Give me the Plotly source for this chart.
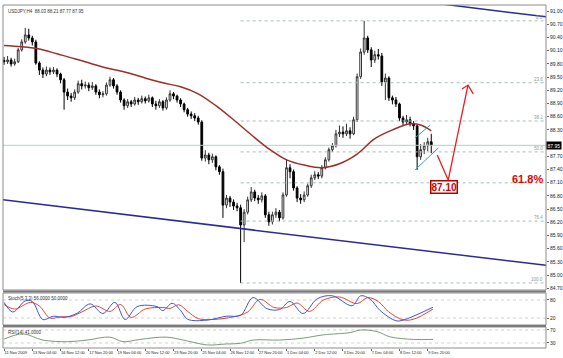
import plotly.graph_objects as go

# ---------------- data ----------------
bars = list(range(122))
open_ = [89.88,89.85,89.89,89.80,89.85,90.12,90.30,90.46,90.39,90.30,
         89.82,89.66,89.57,89.66,89.62,89.66,89.57,89.44,89.16,89.07,
         89.03,89.16,89.35,89.30,89.32,89.26,89.30,89.16,89.10,89.12,
         89.32,89.44,89.30,89.16,88.98,88.85,88.94,88.89,88.98,88.94,
         89.01,88.96,89.03,88.89,88.85,88.94,88.80,88.98,89.12,89.07,
         88.98,88.89,88.76,88.66,88.62,88.57,88.48,87.66,87.73,87.62,
         87.69,87.46,87.35,86.59,86.75,86.66,86.57,86.53,86.14,86.43,
         86.71,86.89,86.75,86.71,86.80,86.37,86.21,86.37,86.43,86.30,
         86.82,87.44,87.35,86.98,86.75,86.71,86.82,87.03,87.21,87.28,
         87.25,87.44,87.62,87.85,87.94,88.21,88.25,88.21,88.28,88.21,
         88.53,89.51,90.07,90.39,90.12,89.89,90.01,89.98,89.39,89.48,
         89.03,88.98,88.89,88.57,88.48,88.53,88.44,88.39,87.69,87.85,
         87.94,88.03]
high = [89.96,89.98,89.94,89.92,90.16,90.36,90.62,90.60,90.44,90.35,
        89.86,89.72,89.74,89.72,89.73,89.70,89.60,89.48,89.24,89.14,
        89.22,89.42,89.44,89.40,89.38,89.39,89.34,89.22,89.18,89.38,
        89.51,89.48,89.34,89.20,89.02,89.00,88.98,89.05,89.03,89.08,
        89.06,89.10,89.06,88.96,89.00,88.98,89.04,89.20,89.16,89.10,
        89.02,88.92,88.80,88.72,88.68,88.62,88.52,87.84,87.78,87.76,
        87.72,87.50,87.42,86.82,86.80,86.72,86.64,86.60,86.50,86.78,
        87.00,86.94,86.82,86.88,86.84,86.44,86.44,86.52,86.48,86.88,
        87.64,87.52,87.40,87.02,86.84,86.90,87.08,87.28,87.36,87.34,
        87.50,87.68,87.90,88.00,88.30,88.40,88.38,88.44,88.36,88.60,
        89.58,90.15,90.78,90.44,90.18,90.10,90.14,90.05,89.58,89.52,
        89.08,89.05,88.92,88.62,88.64,88.60,88.50,88.42,87.98,88.02,
        88.12,88.21]
low = [89.78,89.80,89.74,89.76,89.82,90.08,90.26,90.33,90.22,89.78,
       89.55,89.48,89.52,89.55,89.57,89.50,89.36,88.76,88.98,88.94,
       88.98,89.12,89.22,89.24,89.18,89.21,89.10,89.02,89.04,89.08,
       89.28,89.24,89.10,88.92,88.76,88.80,88.82,88.85,88.87,88.90,
       88.90,88.92,88.82,88.76,88.80,88.74,88.76,88.94,89.00,88.92,
       88.82,88.70,88.60,88.55,88.50,88.42,87.60,87.58,87.52,87.55,
       87.38,87.28,86.30,86.52,86.55,86.48,86.45,84.82,85.75,86.38,
       86.66,86.68,86.62,86.65,86.30,86.12,86.15,86.30,86.22,86.26,
       86.78,87.20,86.92,86.66,86.62,86.66,86.78,86.98,87.16,87.18,
       87.20,87.40,87.58,87.80,87.90,88.14,88.12,88.16,88.10,88.18,
       88.48,89.46,90.01,90.05,89.73,89.82,89.90,89.30,88.98,88.96,
       88.88,88.82,88.50,88.40,88.42,88.38,88.30,87.39,87.62,87.75,
       87.82,87.77]
close = [89.85,89.89,89.80,89.85,90.12,90.30,90.46,90.39,90.30,89.82,
         89.66,89.57,89.66,89.62,89.66,89.57,89.44,89.16,89.07,89.03,
         89.16,89.35,89.30,89.32,89.26,89.30,89.16,89.10,89.12,89.32,
         89.44,89.30,89.16,88.98,88.85,88.94,88.89,88.98,88.94,89.01,
         88.96,89.03,88.89,88.85,88.94,88.80,88.98,89.12,89.07,88.98,
         88.89,88.76,88.66,88.62,88.57,88.48,87.66,87.73,87.62,87.69,
         87.46,87.35,86.59,86.75,86.66,86.57,86.53,86.14,86.43,86.71,
         86.89,86.75,86.71,86.80,86.37,86.21,86.37,86.43,86.30,86.82,
         87.44,87.35,86.98,86.75,86.71,86.82,87.03,87.21,87.28,87.25,
         87.44,87.62,87.85,87.94,88.21,88.25,88.21,88.28,88.21,88.53,
         89.51,90.07,90.39,90.12,89.89,90.01,89.98,89.39,89.48,89.03,
         88.98,88.89,88.57,88.48,88.53,88.44,88.39,87.69,87.85,87.94,
         88.03,87.95]

ma_bar = [0,5,10,15,20,25,30,35,40,45,50,55,60,65,70,75,80,85,90,95,100,105,110,115,118,121]
ma_val = [90.22,90.19,90.14,90.03,89.92,89.80,89.69,89.60,89.48,89.37,89.28,89.12,88.85,
          88.53,88.19,87.87,87.62,87.50,87.44,87.53,87.75,88.10,88.30,88.44,88.41,88.28]

st_bar = [0,2.5,6,8,11,14,17,20.7,24.4,28,31.4,34.3,37.7,43.3,45,47.6,50,52,57.5,63,67,
          70.5,74.5,78,81,84.7,88.7,93,98.6,101,103.7,106.5,111,113,121.5]
st_main = [72,40,77,75,15,26,22,36,67,35,72,15,58,58,45,69,45,16,13,26,29,
           88,51,48,75,35,84,94,61,94,83,45,11,13,56]
sg_bar = [0,3,7.5,10,13,16,19,22,26,30,33,36,40,45,47,49.5,52,55,59,65,69,
          72.5,76.5,80,83,86.5,90.5,95,100,103,106,109,113,116,121.5]
st_signal = [65,50,72,60,20,24,25,40,60,42,65,22,50,55,52,64,42,18,15,24,40,
             82,55,55,70,42,80,90,68,88,75,40,14,16,50]

rsi_bar = [0,5.4,11,18,23.5,30,33.7,38.5,46,52,57.5,63,67,70.5,78,84.7,90.4,98,101,105.7,109.3,116,121.5]
rsi_val = [42,58,39,34,39,48,34,41,48,36,24,27,29,39,39,45,55,62,70,65,49,41,41]

fib_high = 90.78
fib_low = 84.82
fib_ratios = [0.0, 23.6, 38.2, 50.0, 61.8, 76.4, 100.0]
fib_start_bar = 67

price_ticks = [84.70 + 0.30 * k for k in range(22)]
time_ticks = [0, 8, 16, 24, 32, 40, 48, 56, 64, 72, 80, 88, 96, 104, 112, 120]
time_labels = ["11 Nov 2009", "13 Nov 04:00", "16 Nov 12:00", "17 Nov 20:00",
               "19 Nov 04:00", "20 Nov 12:00", "23 Nov 20:00", "25 Nov 04:00",
               "26 Nov 12:00", "27 Nov 20:00", "1 Dec 04:00", "2 Dec 12:00",
               "3 Dec 20:00", "7 Dec 04:00", "8 Dec 12:00", "9 Dec 20:00"]

# drawing objects (channel, pennant, projection arrow)
chan_low_x, chan_low_y = [-0.3, 153.5], [86.71, 85.22]
chan_up_x, chan_up_y = [100, 153.5], [91.40, 90.87]
tri_up_x, tri_up_y = [116.4, 120.7], [88.12, 88.41]
tri_lo_x, tri_lo_y = [116.4, 123.0], [87.39, 87.89]
proj_x, proj_y = [122.7, 125.8, 131.4], [87.73, 87.16, 89.32]
head_x, head_y = [129.7, 131.4, 132.9], [89.23, 89.32, 89.12]

# ---------------- figure ----------------
W, H = 563, 358
XD = [3 / W, 546 / W]
Y1 = [(H - 290) / H, (H - 5) / H]
Y2 = [(H - 325) / H, (H - 293) / H]
Y3 = [(H - 348) / H, (H - 327) / H]
FONT = "Liberation Sans"

fig = go.Figure()

# bid line
fig.add_trace(go.Scatter(x=[-0.3, 153.5], y=[close[-1], close[-1]], mode="lines",
                         line=dict(color="#a9d3d3", width=1), hoverinfo="skip"))
# fib levels
for r in fib_ratios:
    lvl = fib_high - r / 100.0 * (fib_high - fib_low)
    fig.add_trace(go.Scatter(x=[fib_start_bar, 153.5], y=[lvl, lvl], mode="lines",
                             line=dict(color="#a6bfb3", width=1, dash="dot"), hoverinfo="skip"))
    if r != 61.8:
        fig.add_annotation(x=153.2, y=lvl, text=f"{r:.1f}", showarrow=False, xanchor="right",
                           yanchor="bottom", yshift=-1, font=dict(size=4.5, color="#8a9a90", family=FONT))

fig.add_trace(go.Candlestick(x=bars, open=open_, high=high, low=low, close=close,
                             increasing=dict(line=dict(color="#333333", width=1), fillcolor="#ffffff"),
                             decreasing=dict(line=dict(color="#000000", width=1), fillcolor="#000000"),
                             whiskerwidth=0, hoverinfo="skip"))
fig.add_trace(go.Scatter(x=ma_bar, y=ma_val, mode="lines", line=dict(color="#9e2f26", width=1.5, shape="spline"),
                         hoverinfo="skip"))
fig.add_trace(go.Scatter(x=chan_low_x, y=chan_low_y, mode="lines", line=dict(color="#2a2a9a", width=1.5)))
fig.add_trace(go.Scatter(x=chan_up_x, y=chan_up_y, mode="lines", line=dict(color="#2a2a9a", width=1.5)))
fig.add_trace(go.Scatter(x=tri_up_x, y=tri_up_y, mode="lines", line=dict(color="#3f9f98", width=1)))
fig.add_trace(go.Scatter(x=tri_lo_x, y=tri_lo_y, mode="lines", line=dict(color="#3f9f98", width=1)))
fig.add_trace(go.Scatter(x=proj_x, y=proj_y, mode="lines", line=dict(color="#ee1c1c", width=1.3)))
fig.add_trace(go.Scatter(x=head_x, y=head_y, mode="lines", line=dict(color="#ee1c1c", width=1.3)))

# stochastic
for lv in [80, 20]:
    fig.add_trace(go.Scatter(x=[-0.3, 153.5], y=[lv, lv], mode="lines", yaxis="y2",
                             line=dict(color="#c9d6cc", width=1, dash="dot")))
fig.add_trace(go.Scatter(x=sg_bar, y=st_signal, mode="lines", yaxis="y2",
                         line=dict(color="#e8452f", width=1, shape="spline")))
fig.add_trace(go.Scatter(x=st_bar, y=st_main, mode="lines", yaxis="y2",
                         line=dict(color="#3b55e0", width=1, shape="spline")))
# rsi
for lv in [70, 30]:
    fig.add_trace(go.Scatter(x=[-0.3, 153.5], y=[lv, lv], mode="lines", yaxis="y3",
                             line=dict(color="#c9d6cc", width=1, dash="dot")))
fig.add_trace(go.Scatter(x=rsi_bar, y=rsi_val, mode="lines", yaxis="y3",
                         line=dict(color="#7d9a7a", width=1, shape="spline")))

# texts
fig.add_annotation(x=124.5, y=87.00, text="<b>87.10</b>", showarrow=False,
                   font=dict(size=10, color="#d40000", family=FONT),
                   bgcolor="#ffffff", bordercolor="#b00000", borderwidth=1.5, borderpad=0)
fig.add_annotation(x=148.4, y=87.19, text="<b>61.8%</b>", showarrow=False,
                   font=dict(size=11, color="#e60000", family=FONT))
fig.add_annotation(xref="paper", x=XD[1], y=close[-1], text=f"{close[-1]:.2f}", showarrow=False,
                   xanchor="left", font=dict(size=5, color="#ffffff", family=FONT), bgcolor="#000000",
                   borderpad=0.5)
fig.add_annotation(xref="paper", yref="paper", x=XD[0] + 0.006, y=Y1[1] - 0.006,
                   text=f"USDJPY,H4  {open_[-1]:.2f} {high[-1]:.2f} {low[-1]:.2f} {close[-1]:.2f}",
                   showarrow=False, xanchor="left", yanchor="top",
                   font=dict(size=4.5, color="#333333", family=FONT))
fig.add_annotation(xref="paper", yref="paper", x=XD[0] + 0.006, y=Y2[1] - 0.004,
                   text=f"Stoch(5,3,3) {st_main[-1]:.4f} {st_signal[-1]:.4f}",
                   showarrow=False, xanchor="left", yanchor="top",
                   font=dict(size=4.5, color="#333333", family=FONT))
fig.add_annotation(xref="paper", yref="paper", x=XD[0] + 0.006, y=Y3[1] - 0.004,
                   text=f"RSI(14) {rsi_val[-1]:.4f}",
                   showarrow=False, xanchor="left", yanchor="top",
                   font=dict(size=4.5, color="#333333", family=FONT))

# panel frames
for dom in (Y1, Y2, Y3):
    fig.add_shape(type="rect", xref="paper", yref="paper", x0=XD[0], x1=XD[1], y0=dom[0], y1=dom[1],
                  line=dict(color="#8c8c8c", width=1))
for ysep in ((H - 291.5) / H, (H - 326) / H):
    fig.add_shape(type="line", xref="paper", yref="paper", x0=XD[0], x1=XD[1], y0=ysep, y1=ysep,
                  line=dict(color="#7a7a7a", width=2))

# the price-box replaces the scale label it covers
price_labels = ["" if abs(v - close[-1]) < 0.15 else f"{v:.2f}" for v in price_ticks]

tickfont = dict(size=5, color="#222222", family=FONT)
fig.update_layout(
    width=W, height=H, autosize=False, showlegend=False,
    margin=dict(l=0, r=0, t=0, b=0),
    paper_bgcolor="#ffffff", plot_bgcolor="#ffffff",
    xaxis=dict(domain=XD, range=[-0.3, 153.5], anchor="y3", showgrid=False, zeroline=False,
               tickvals=time_ticks, ticktext=time_labels, ticks="outside", ticklen=2,
               tickangle=0, tickcolor="#666666", ticklabelposition="outside right",
               tickfont=dict(size=4.0, color="#222222", family=FONT),
               rangeslider=dict(visible=False), showline=False),
    yaxis=dict(domain=Y1, range=[84.66, 91.14], side="right", anchor="x", showgrid=False,
               zeroline=False, tickvals=price_ticks, ticktext=price_labels,
               ticks="outside", ticklen=2, tickcolor="#666666", tickfont=tickfont),
    yaxis2=dict(domain=Y2, range=[-3.3, 103.3], side="right", anchor="x", showgrid=False,
                zeroline=False, tickvals=[80, 20], ticks="outside", ticklen=2,
                tickcolor="#666666", tickfont=tickfont),
    yaxis3=dict(domain=Y3, range=[14.6, 79.2], side="right", anchor="x", showgrid=False,
                zeroline=False, tickvals=[70, 30], ticks="outside", ticklen=2,
                tickcolor="#666666", tickfont=tickfont),
)

fig.write_html("out.html")
